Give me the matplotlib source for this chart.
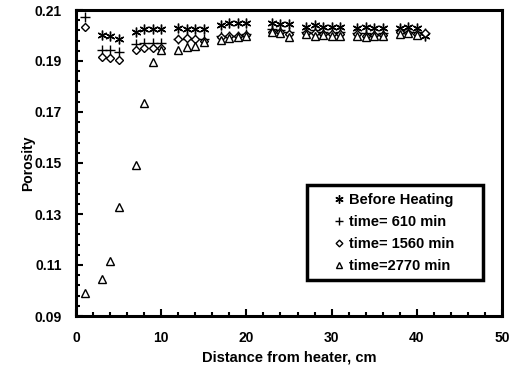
import matplotlib
matplotlib.use("Agg")
import matplotlib.pyplot as plt
from matplotlib.patches import Rectangle
from matplotlib.ticker import FixedLocator, MultipleLocator, FormatStrFormatter
import numpy as np

plt.rcParams['font.family'] = ['Liberation Sans', 'DejaVu Sans']
plt.rcParams['font.weight'] = 'bold'

x_before = [1, 3, 4, 5, 7, 8, 9, 10, 12, 13, 14, 15, 17, 18, 19, 20, 23, 24, 25,
            27, 28, 29, 30, 31, 33, 34, 35, 36, 38, 39, 40, 41]
y_before = [0.2115, 0.2002, 0.2000, 0.1985, 0.2014, 0.2026, 0.2026, 0.2026,
            0.2031, 0.2024, 0.2024, 0.2024, 0.2040, 0.2048, 0.2048, 0.2048,
            0.2050, 0.2045, 0.2045, 0.2035, 0.2040, 0.2035, 0.2035, 0.2035,
            0.2030, 0.2035, 0.2030, 0.2030, 0.2030, 0.2035, 0.2030, 0.2000]

x_610 = [1, 3, 4, 5, 7, 8, 9, 10, 12, 13, 14, 15, 17, 18, 19, 20, 23, 24, 25,
         27, 28, 29, 30, 31, 33, 34, 35, 36, 38, 39, 40, 41]
y_610 = [0.2073, 0.1944, 0.1944, 0.1936, 0.1968, 0.1971, 0.1971, 0.1971,
         0.1985, 0.1985, 0.1985, 0.1985, 0.1998, 0.2000, 0.2000, 0.2005,
         0.2025, 0.2020, 0.2015, 0.2015, 0.2020, 0.2015, 0.2010, 0.2015,
         0.2010, 0.2010, 0.2005, 0.2010, 0.2020, 0.2015, 0.2015, 0.2010]

x_1560 = [1, 3, 4, 5, 7, 8, 9, 10, 12, 13, 14, 15, 17, 18, 19, 20, 23, 24, 25,
          27, 28, 29, 30, 31, 33, 34, 35, 36, 38, 39, 40, 41]
y_1560 = [0.2034, 0.1916, 0.1912, 0.1905, 0.1944, 0.1951, 0.1951, 0.1951,
          0.1985, 0.1990, 0.1985, 0.1980, 0.1995, 0.2000, 0.1998, 0.2003,
          0.2015, 0.2012, 0.2005, 0.2010, 0.2008, 0.2005, 0.2005, 0.2005,
          0.2005, 0.2000, 0.2003, 0.2003, 0.2012, 0.2010, 0.2005, 0.2008]

x_2770 = [1, 3, 4, 5, 7, 8, 9, 10, 12, 13, 14, 15, 17, 18, 19, 20, 23, 24, 25,
          27, 28, 29, 30, 31, 33, 34, 35, 36, 38, 39, 40]
y_2770 = [0.0990, 0.1044, 0.1115, 0.1326, 0.1494, 0.1736, 0.1897, 0.1944,
          0.1944, 0.1955, 0.1960, 0.1975, 0.1983, 0.1990, 0.1995, 0.2000,
          0.2015, 0.2010, 0.1994, 0.2005, 0.2000, 0.2003, 0.1998, 0.2000,
          0.2000, 0.1994, 0.2000, 0.1998, 0.2005, 0.2010, 0.2003]

labels = ["Before Heating", "time= 610 min", "time= 1560 min", "time=2770 min"]
y_ticks = [0.09, 0.11, 0.13, 0.15, 0.17, 0.19, 0.21]

fig = plt.figure(figsize=(5.09, 3.68), dpi=100)
ax = fig.add_axes([76/509, 1-316/368, 426/509, 306/368])

mk = dict(linestyle='none', color='black', markeredgewidth=1.0)
ax.plot(x_before, y_before, marker=(6, 2, 0), markersize=7, label=labels[0], **mk)
ax.plot(x_610, y_610, marker='+', markersize=7, label=labels[1], **mk)
ax.plot(x_1560, y_1560, marker='D', markersize=4, markerfacecolor='white',
        label=labels[2], **mk)
ax.plot(x_2770, y_2770, marker='^', markersize=5.5, markerfacecolor='white',
        label=labels[3], **mk)

ax.set_xlim(0, 50)
ax.set_ylim(0.09, 0.21)
ax.xaxis.set_major_locator(MultipleLocator(10))
ax.xaxis.set_minor_locator(MultipleLocator(2))
ax.yaxis.set_major_locator(FixedLocator(y_ticks))
ax.yaxis.set_minor_locator(FixedLocator(np.arange(0.09, 0.2101, 0.004)))
ax.yaxis.set_major_formatter(FormatStrFormatter('%.2f'))
ax.tick_params(which='both', direction='in', top=False, right=False,
               width=1.5, labelsize=10)
ax.tick_params(which='major', length=5)
ax.tick_params(which='minor', length=3)
ax.tick_params(axis='x', which='major', pad=11)
ax.tick_params(axis='y', which='major', pad=10)
for lab in ax.get_xticklabels() + ax.get_yticklabels():
    lab.set_fontweight('bold')
for s in ax.spines.values():
    s.set_linewidth(2.2)

ax.set_xlabel("Distance from heater, cm", fontsize=10.5, fontweight='bold')
ax.set_ylabel("Porosity", fontsize=10, fontweight='bold')
ax.xaxis.set_label_coords(0.5, -0.112)
ax.yaxis.set_label_coords(-0.096, 0.5)

# legend box
ax.add_patch(Rectangle((0.542, 0.118), 0.413, 0.31, transform=ax.transAxes,
                       fill=True, facecolor='white', edgecolor='black',
                       linewidth=2.5, zorder=5))
leg = ax.legend(loc='upper left', bbox_to_anchor=(0.603, 0.402), frameon=False,
                fontsize=10.5, handlelength=0.8, handletextpad=0.3,
                labelspacing=0.56, borderaxespad=0, borderpad=0,
                markerscale=0.85)
leg.set_zorder(6)
for t in leg.get_texts():
    t.set_fontweight('bold')

fig.savefig("out.png", dpi=100)
